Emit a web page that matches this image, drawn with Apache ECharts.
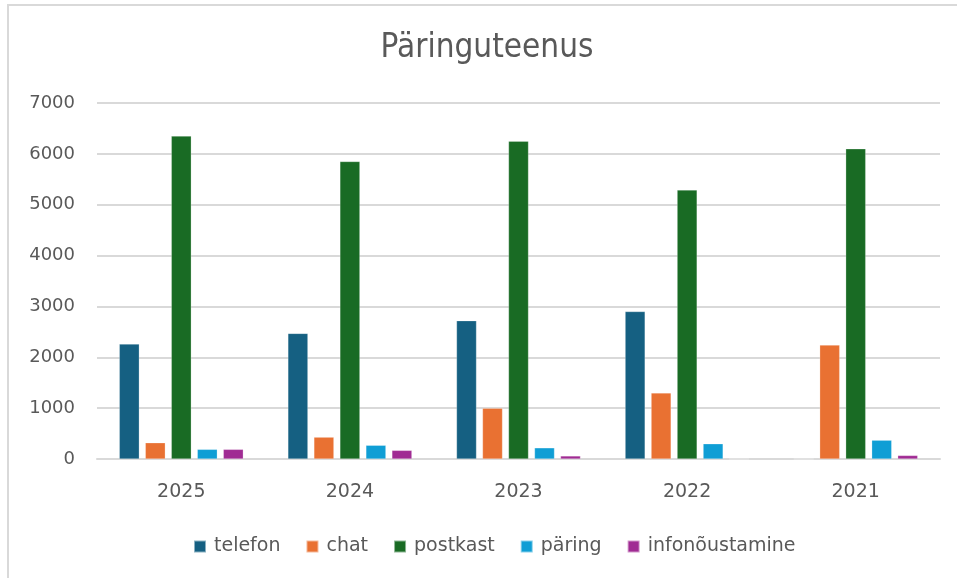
<!DOCTYPE html>
<html>
<head>
<meta charset="utf-8">
<script src="https://cdn.jsdelivr.net/npm/echarts@6/dist/echarts.min.js"></script>
<style>
html,body{margin:0;padding:0;background:#fff;overflow:hidden;}
#frame{position:absolute;left:7px;top:4px;width:1100px;height:800px;border-left:2px solid #d9d9d9;border-top:2px solid #d9d9d9;}
#chart{position:absolute;left:0;top:0;width:957px;height:578px;}
</style>
</head>
<body>
<div id="frame"></div>
<div id="chart"></div>
<script>
const categories = ['2025', '2024', '2023', '2022', '2021'];
const seriesNames = ['telefon', 'chat', 'postkast', 'päring', 'infonõustamine'];
const telefon = [2260, 2470, 2720, 2900, 0];
const chat = [320, 430, 1000, 1300, 2240];
const postkast = [6350, 5850, 6250, 5290, 6100];
const paring = [190, 270, 220, 300, 370];
const infonoustamine = [190, 170, 60, 0, 70];
const yTicks = [0, 1000, 2000, 3000, 4000, 5000, 6000, 7000];
const colors = ['#156082', '#E97132', '#196B24', '#0F9ED5', '#A02B93'];
const values = [telefon, chat, postkast, paring, infonoustamine];

const chart = echarts.init(document.getElementById('chart'), null, {renderer: 'canvas'});
const textColor = '#595959';
const font = 'DejaVu Sans, sans-serif';
chart.setOption({
  animation: false,
  title: {
    text: 'Päringuteenus',
    left: 482, textAlign: 'center', top: 27,
    textStyle: {fontFamily: 'DejaVu Sans Condensed, DejaVu Sans, sans-serif', fontSize: 33, fontWeight: 'normal', color: textColor}
  },
  legend: {
    data: seriesNames,
    left: 193, top: 537, padding: 0,
    itemWidth: 12, itemHeight: 12, itemGap: 25,
    icon: 'rect',
    textStyle: {fontFamily: font, fontSize: 19, color: textColor, padding: [0,0,0,3]}
  },
  grid: {left: 97, right: 17, top: 103, bottom: 119, containLabel: false},
  xAxis: {
    type: 'category', data: categories,
    axisTick: {show: false},
    axisLine: {lineStyle: {color: '#d9d9d9', width: 2}},
    axisLabel: {fontFamily: font, fontSize: 19, color: textColor, margin: 24}
  },
  yAxis: {
    type: 'value', min: yTicks[0], max: yTicks[yTicks.length-1], interval: 1000,
    axisLine: {show: false}, axisTick: {show: false},
    splitLine: {lineStyle: {color: '#d9d9d9', width: 2}},
    axisLabel: {fontFamily: font, fontSize: 18, color: textColor, margin: 22, formatter: v => String(v)}
  },
  series: seriesNames.map((n, i) => ({
    name: n, type: 'bar', data: values[i],
    barWidth: 20, barGap: '30%',
    itemStyle: {color: colors[i], borderColor: 'rgba(255,255,255,0.5)', borderWidth: 0.5}
  }))
});
</script>
</body>
</html>
